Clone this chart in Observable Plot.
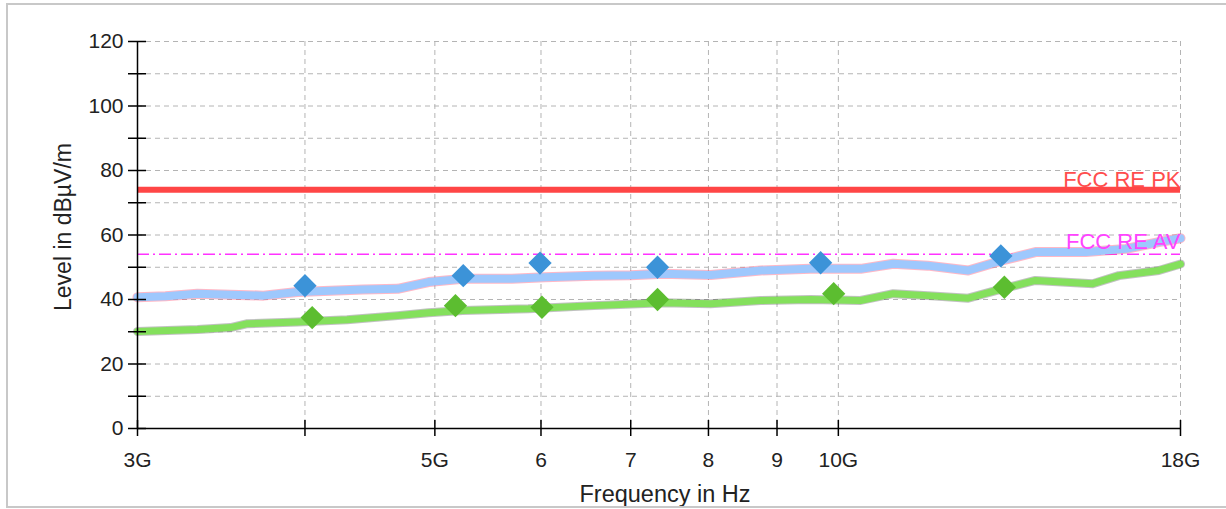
<!DOCTYPE html>
<html><head><meta charset="utf-8">
<script src="https://cdn.jsdelivr.net/npm/d3@7"></script>
<script src="https://cdn.jsdelivr.net/npm/@observablehq/plot@0.6"></script>
<style>
body{margin:0;background:#fff;}
#wrap{position:relative;width:1226px;height:509px;overflow:hidden;}
#frame{position:absolute;left:6px;top:3px;width:1240px;height:505px;border:2px solid #c8c8c8;border-right:none;box-sizing:border-box;pointer-events:none;}
</style></head><body>
<div id="wrap"><div id="frame"></div></div>
<script>
// Frequencies in GHz, levels in dBµV/m
const peakFreq  = [3.0, 3.148, 3.326, 3.52, 3.725, 3.949, 4.18, 4.42, 4.69, 4.946, 5.245, 5.706, 6.04, 6.57, 7.0, 7.40, 8.03, 8.75, 9.53, 10.39, 10.99, 11.66, 12.5, 13.25, 14.03, 15.3, 16.39, 17.34, 18.0];
const peakLevel = [40.7, 41.0, 41.8, 41.5, 41.2, 42.3, 42.7, 43.1, 43.3, 45.4, 46.4, 46.4, 46.9, 47.4, 47.5, 48.0, 47.6, 49.0, 49.5, 49.5, 51.1, 50.5, 49.0, 52.1, 54.7, 54.7, 55.7, 57.8, 59.0];
const avgFreq   = [3.0, 3.326, 3.52, 3.624, 3.949, 4.30, 4.69, 4.946, 5.245, 5.87, 6.57, 7.40, 8.03, 8.75, 9.53, 10.39, 10.99, 11.66, 12.5, 13.25, 14.03, 15.48, 16.19, 17.34, 18.0];
const avgLevel  = [30.1, 30.7, 31.3, 32.5, 33.0, 33.7, 35.0, 35.9, 36.6, 37.1, 38.1, 39.0, 38.7, 39.7, 40.0, 39.7, 41.8, 41.2, 40.4, 43.3, 45.9, 44.9, 47.4, 49.0, 51.0];
const peakMarkFreq  = [4.0, 5.25, 5.99, 7.33, 9.70, 13.22];
const peakMarkLevel = [44.3, 47.4, 51.3, 50.0, 51.4, 53.5];
const avgMarkFreq   = [4.05, 5.18, 6.01, 7.33, 9.92, 13.3];
const avgMarkLevel  = [34.4, 38.1, 37.6, 40.0, 41.8, 43.8];
const limitNames  = ["FCC RE PK", "FCC RE AV"];
const limitLevels = [74, 54];
const xTickValues = [3, 4, 5, 6, 7, 8, 9, 10, 18];
const xTickLabels = ["3G", "", "5G", "6", "7", "8", "9", "10G", "18G"];
const yTickValues = [0, 10, 20, 30, 40, 50, 60, 70, 80, 90, 100, 110, 120];
const yLabelValues = [0, 20, 40, 60, 80, 100, 120];
const xTitle = "Frequency in Hz";
const yTitle = "Level in dBµV/m";

const peak = peakFreq.map((f, i) => ({f, v: peakLevel[i]}));
const avg = avgFreq.map((f, i) => ({f, v: avgLevel[i]}));
const peakMarks = peakMarkFreq.map((f, i) => ({f, v: peakMarkLevel[i]}));
const avgMarks = avgMarkFreq.map((f, i) => ({f, v: avgMarkLevel[i]}));
const limits = limitNames.map((name, i) => ({name, v: limitLevels[i]}));

const gridStyle = {stroke: "#b4b4b4", strokeOpacity: 1, strokeWidth: 1, strokeDasharray: "5,4"};

const chart = Plot.plot({
  width: 1226, height: 509,
  marginLeft: 137, marginRight: 46, marginTop: 41, marginBottom: 81,
  style: {fontFamily: "'Liberation Sans', Arial, sans-serif", fontSize: "21px", background: "transparent", overflow: "visible", color: "#222"},
  x: {type: "log", domain: [3, 18]},
  y: {domain: [0, 120]},
  marks: [
    Plot.gridY(yTickValues.filter(d => d > 0), gridStyle),
    Plot.gridX(xTickValues.filter(d => d > 3), gridStyle),
    Plot.ruleY([limits[1]], {y: "v", stroke: "#ff33ff", strokeWidth: 1.5, strokeDasharray: "12,4,2,4"}),
    Plot.ruleY([limits[0]], {y: "v", stroke: "#ff4646", strokeWidth: 6}),
    Plot.line(avg, {x: "f", y: "v", stroke: "#333", strokeWidth: 9, strokeOpacity: 0.3}),
    Plot.line(avg, {x: "f", y: "v", stroke: "#84e05c", strokeWidth: 7}),
    Plot.line(peak, {x: "f", y: "v", stroke: "#ff4d70", strokeWidth: 10, strokeOpacity: 0.4}),
    Plot.line(peak, {x: "f", y: "v", stroke: "#9ec8fd", strokeWidth: 8}),
    Plot.dot(peakMarks, {x: "f", y: "v", symbol: "diamond2", r: 10.5, fill: "#3c93d8", stroke: "none"}),
    Plot.dot(avgMarks, {x: "f", y: "v", symbol: "diamond2", r: 10.5, fill: "#5cbd30", stroke: "none"}),
    Plot.text([limits[0]], {x: () => 18, y: "v", text: "name", textAnchor: "end", lineAnchor: "bottom", dy: -3, fill: "#ff4d4d", fontSize: 22}),
    Plot.text([limits[1]], {x: () => 18, y: "v", text: "name", textAnchor: "end", lineAnchor: "bottom", dy: -5, fill: "#ff44ff", fontSize: 22}),
    Plot.ruleX([3], {stroke: "#000", strokeWidth: 1.5}),
    Plot.ruleY([0], {stroke: "#000", strokeWidth: 1.5}),
    Plot.axisY({ticks: yTickValues, tickSize: 18, dx: 9, fill: "none", label: null, stroke: "#000", strokeWidth: 1.5}),
    Plot.axisY({ticks: yLabelValues, tickSize: 0, tickPadding: 14, label: null, fill: "#222", fontSize: 21}),
    Plot.axisX({ticks: xTickValues, tickSize: 16, dy: -8, fill: "none", label: null, stroke: "#000", strokeWidth: 1.5}),
    Plot.axisX({ticks: xTickValues, tickSize: 0, tickPadding: 24, label: null, fill: "#222", fontSize: 21,
      tickFormat: d => xTickLabels[xTickValues.indexOf(d)]}),
    Plot.text([yTitle], {frameAnchor: "left", textAnchor: "middle", lineAnchor: "middle", dx: -74, dy: -8, rotate: -90, fontSize: 23, fill: "#222"}),
    Plot.text([xTitle], {frameAnchor: "bottom", textAnchor: "middle", lineAnchor: "middle", dx: 6, dy: 66, fontSize: 23.5, fill: "#222"})
  ]
});
document.getElementById("wrap").prepend(chart);
</script>
</body></html>
